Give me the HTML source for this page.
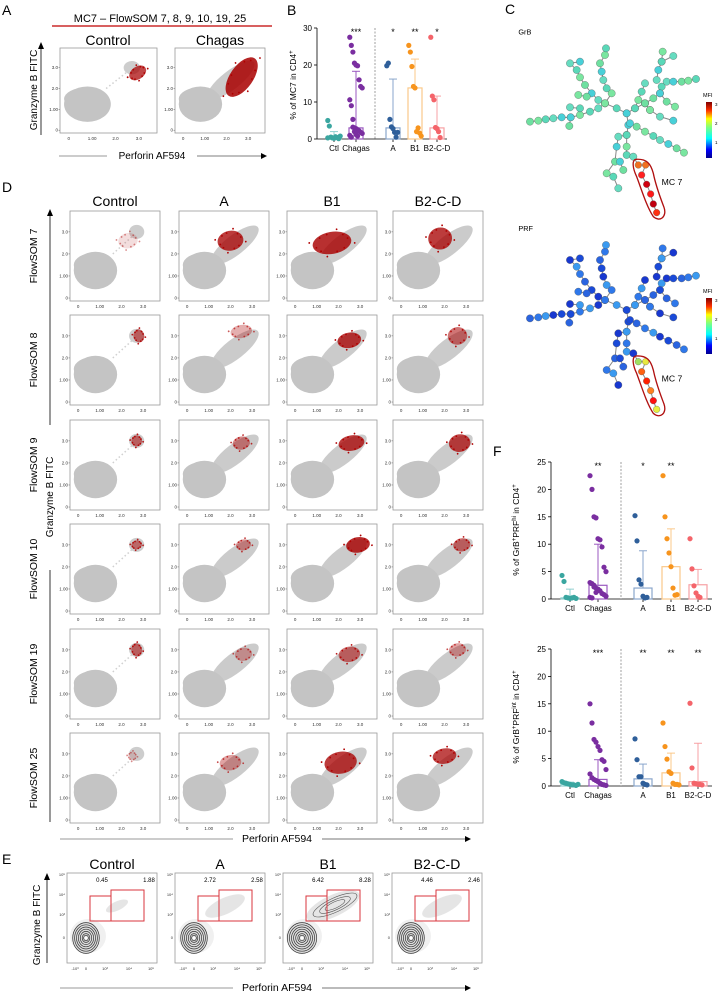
<!DOCTYPE html>
<html><head><meta charset="utf-8"><style>
html,body{margin:0;padding:0;background:#fff}
svg{display:block;font-family:"Liberation Sans",sans-serif}
</style></head><body>
<svg id="fig" xmlns="http://www.w3.org/2000/svg" width="726" height="993" viewBox="0 0 726 993">
<rect width="726" height="993" fill="#fff"/>
<g id="static">
<text x="2" y="15" font-size="14">A</text>
<text x="160" y="22" font-size="11" text-anchor="middle">MC7 – FlowSOM 7, 8, 9, 10, 19, 25</text>
<line x1="52" y1="26" x2="272" y2="26" stroke="#c00000" stroke-width="1.3"/>
<text x="108" y="45" font-size="14" text-anchor="middle">Control</text>
<text x="220" y="45" font-size="14" text-anchor="middle">Chagas</text>
<line x1="41" y1="135" x2="41" y2="46" stroke="#000" stroke-width="0.8"/>
<path d="M41,42 l-3,7 h6z" fill="#000"/>
<text transform="translate(37,90) rotate(-90)" font-size="10" text-anchor="middle">Granzyme B FITC</text>
<text x="152" y="159" font-size="10" text-anchor="middle">Perforin AF594</text>
<line x1="59" y1="156" x2="107" y2="156" stroke="#999" stroke-width="1"/>
<line x1="197" y1="156" x2="263" y2="156" stroke="#555" stroke-width="0.8"/>
<path d="M267,156 l-6,-3 v6z" fill="#000"/>
<text x="287" y="15" font-size="14">B</text>
<text x="505" y="14" font-size="14">C</text>
<text x="2" y="192" font-size="14">D</text>
<text x="2" y="864" font-size="14">E</text>
<text x="493" y="456" font-size="14">F</text>
</g>
<g id="dyn"></g>
</svg>
<script>
// ---------- Panel B data ----------
const bCategories = ["Ctl","Chagas","A","B1","B2-C-D"];
const bStars = ["","***","*","**","*"];
const bCtl = [5,3.5,0.5,0.3,0.2,0.6,0.4,0.1,0.8,0.3];
const bChagas = [27.5,25.3,23.5,20.5,20,19.8,16,14.2,13.8,10.6,9,5.3,3,2.8,2.5,2.2,1.8,1.5,1,0.5,3.2,2,1.2,0.8];
const bA = [19.8,20.5,5.3,3.3,2.8,1.8,0.5,1.8];
const bB1 = [25.3,23.5,19.6,14.2,13.8,2,3,1.6,0.8];
const bB2CD = [27.5,11.6,10.6,3.1,2.8,2,0.4];
const bMedians = [0.5,3,3,13.8,3];
const bUpper = [2,18.3,16.2,21.6,11.6];
const bTicks = [0,10,20,30];
// ---------- Panel F data ----------
const fStarsHi = ["","**","*","**",""];
const fCtlHi = [4.3,3.2,0.3,0.2,0.1,0.2,0.3,0.1];
const fChagasHi = [22.5,20,15,14.8,11,10.8,9.5,5.8,5,3,2.8,2.5,2,1.8,1.5,1,0.8,0.5,0.3,0.2,2.2,1.2];
const fAHi = [15.2,10.6,3.5,2.7,0.5,0.2,0.3];
const fB1Hi = [22.5,15,11,8.4,5.9,2,0.7,0.8];
const fB2CDHi = [11,5.5,2.4,1.1,0.5,0.3];
const fMedHi = [0.2,2.5,2,5.9,2.6];
const fUpHi = [1.8,10,8.8,12.8,5.4];
const fStarsInt = ["","***","**","**","**"];
const fCtlInt = [0.8,0.6,0.5,0.4,0.3,0.2,0.2,0.1,0.3];
const fChagasInt = [15,11.5,8.5,8,7.2,6.5,4.8,4.5,3,2.2,1.5,1.2,1,0.8,0.5,0.3,0.2,0.1];
const fAInt = [8.6,4.8,1.7,1.7,0.5,0.3,0.2];
const fB1Int = [11.5,7.2,4.9,2.6,2.3,0.5,0.3,0.3,0.2];
const fB2CDInt = [15.1,3.3,0.5,0.4,0.3,0.3,0.2];
const fMedInt = [0.3,1.2,1.3,2.4,0.8];
const fUpInt = [0.7,4.8,4,6,7.8];
const fTicks = [0,5,10,15,20,25];
// ---------- Panel D / A cluster data (data units) ----------
const dRows = ["FlowSOM 7","FlowSOM 8","FlowSOM 9","FlowSOM 10","FlowSOM 19","FlowSOM 25"];
const dCols = ["Control","A","B1","B2-C-D"];
const redX = [[2.3,2.0,1.7,1.8],[2.8,2.5,2.5,2.6],[2.7,2.5,2.6,2.7],[2.7,2.6,2.9,2.8],[2.7,2.6,2.5,2.6],[2.5,2.0,2.1,2.0]];
const redY = [[2.6,2.6,2.5,2.7],[3.0,3.2,2.8,3.0],[3.0,2.9,2.9,2.9],[3.0,3.0,3.0,3.0],[3.0,2.8,2.8,3.0],[2.9,2.6,2.6,2.9]];
const redRX = [[0.45,0.6,0.9,0.55],[0.25,0.5,0.55,0.45],[0.25,0.4,0.6,0.5],[0.25,0.35,0.55,0.4],[0.25,0.4,0.5,0.4],[0.2,0.5,0.75,0.55]];
const redRY = [[0.35,0.45,0.5,0.5],[0.3,0.3,0.35,0.4],[0.25,0.3,0.35,0.4],[0.2,0.25,0.35,0.3],[0.3,0.3,0.35,0.3],[0.2,0.35,0.5,0.35]];
const redDensity = [[0.15,0.85,0.9,0.85],[0.6,0.35,0.85,0.6],[0.6,0.5,0.85,0.8],[0.55,0.45,0.9,0.6],[0.6,0.35,0.6,0.4],[0.15,0.4,0.85,0.8]];
// ---------- Panel E data ----------
const eCols = ["Control","A","B1","B2-C-D"];
const eGateLeft = ["0.45","2.72","6.42","4.46"];
const eGateRight = ["1.88","2.58","8.28","2.46"];

const NS="http://www.w3.org/2000/svg";
const root=document.getElementById('dyn');
function el(tag,attrs,parent){const e=document.createElementNS(NS,tag);for(const k in attrs)e.setAttribute(k,attrs[k]);(parent||root).appendChild(e);return e;}
function txt(s,attrs,parent){const e=el('text',attrs,parent);e.textContent=s;return e;}

// ---------- scatter plot ----------
function scatter(bx,by,w,h,patient,rx,ry,rrx,rry,dens,name,rot){
  rot=rot||0;
  const g=el('g',{});
  
  
  const sx=w*0.241, sy=h*0.245, ox=bx+w*0.09, oy=by+h*0.967;
  const X=v=>ox+v*sx, Y=v=>oy-v*sy;
  el('rect',{x:bx,y:by,width:w,height:h,fill:'#fff',stroke:'#999','stroke-width':0.8},g);
  if(patient){
    el('ellipse',{cx:X(2.2),cy:Y(2.4),rx:1.35*sx,ry:0.45*sy,transform:`rotate(-38 ${X(2.2)} ${Y(2.4)})`,fill:'#cbcbcb'},g);
  } else {
    el('ellipse',{cx:X(2.7),cy:Y(3.0),rx:0.35*sx,ry:0.32*sy,fill:'#cdcdcd'},g);
    el('line',{x1:X(1.6),y1:Y(2.0),x2:X(2.5),y2:Y(2.8),stroke:'#d0d0d0','stroke-width':1.5,'stroke-dasharray':'1.5 2.5'},g);
  }
  el('ellipse',{cx:X(0.8),cy:Y(1.25),rx:1.0*sx,ry:0.85*sy,fill:'#c4c4c4'},g);
  el('ellipse',{cx:X(0.75),cy:Y(1.5),rx:0.95*sx,ry:0.55*sy,fill:'#c4c4c4'},g);
  // red cluster
  const rc=`rotate(${rot} ${X(rx)} ${Y(ry)})`;
  el('ellipse',{cx:X(rx),cy:Y(ry),rx:rrx*sx,ry:rry*sy,fill:'#a80000',opacity:dens*0.9,transform:rc},g);
  for(let i=0;i<12;i++){const a=i*0.5236+0.3, f=(i%3===0)?1.2:0.85;
    el('circle',{cx:X(rx)+Math.cos(a)*rrx*sx*f,cy:Y(ry)+Math.sin(a)*rry*sy*f,r:0.9,fill:'#b00000',opacity:Math.min(1,dens+0.3),transform:rc},g);}
  // ticks
  const yl=[[3,'3.0'],[2,'2.0'],[1,'1.00'],[0,'0']];
  yl.forEach(t=>{txt(t[1],{x:bx-2,y:Y(t[0])+1.5,'font-size':4.5,'text-anchor':'end',fill:'#333'},g);el('line',{x1:bx-1.5,y1:Y(t[0]),x2:bx,y2:Y(t[0]),stroke:'#666','stroke-width':0.5},g);});
  const xl=[[0,'0'],[1,'1.00'],[2,'2.0'],[3,'3.0']];
  xl.forEach(t=>{txt(t[1],{x:X(t[0]),y:by+h+7,'font-size':4.5,'text-anchor':'middle',fill:'#333'},g);});
  root.appendChild(g);
}
// Panel A plots
scatter(60,48,97,85,false,2.95,2.75,0.4,0.3,0.8,'scatter-a-control',-35);
scatter(175,48,90,85,true,2.7,2.55,1.05,0.55,0.95,'scatter-a-chagas',-55);

// Panel D
const dColX=[70,179,287,393], dRowY=[211,315,420,524,629,733];
dCols.forEach((c,j)=>{const t=txt(c,{x:dColX[j]+45,y:206,'font-size':14,'text-anchor':'middle'});
  
  });
dRows.forEach((r,i)=>{
  const t=txt(r,{transform:`translate(37,${dRowY[i]+45}) rotate(-90)`,'font-size':10.5,'text-anchor':'middle'});
  
  
  dCols.forEach((c,j)=>{
    scatter(dColX[j],dRowY[i],90,90,j>0,redX[i][j],redY[i][j],redRX[i][j],redRY[i][j],redDensity[i][j],'scatter-d',-10);
  });
});
el('line',{x1:50,y1:214,x2:50,y2:425,stroke:'#000','stroke-width':0.8});
el('path',{d:'M50,209 l-3,7 h6z',fill:'#000'});
el('line',{x1:50,y1:570,x2:50,y2:822,stroke:'#000','stroke-width':0.8});
const dy=txt('Granzyme B FITC',{transform:'translate(53,497) rotate(-90)','font-size':10,'text-anchor':'middle'});


const dx=txt('Perforin AF594',{x:277,y:842,'font-size':10.5,'text-anchor':'middle'});


el('line',{x1:60,y1:839,x2:233,y2:839,stroke:'#999','stroke-width':1});
el('line',{x1:322,y1:839,x2:466,y2:839,stroke:'#777','stroke-width':1});
el('path',{d:'M471,839 l-6,-3 v6z',fill:'#000'});

// Panel E
const eColX=[67,175,283,392], eTop=873, eH=90, eW=90;
eCols.forEach((c,j)=>{
  const bx=eColX[j];
  const t=txt(c,{x:bx+45,y:869,'font-size':14,'text-anchor':'middle'});
  
  
  const g=el('g',{});
  
  
  el('rect',{x:bx,y:eTop,width:eW,height:eH,fill:'#fff',stroke:'#999','stroke-width':0.8},g);
  const spread=[0.5,0.9,1.2,0.9][j];
  el('ellipse',{cx:bx+50,cy:eTop+33,rx:24*spread,ry:9*spread,transform:`rotate(-25 ${bx+50} ${eTop+33})`,fill:'#000',opacity:0.1},g);
  if(j===2){[1,0.7,0.45].forEach(s=>el('ellipse',{cx:bx+52,cy:eTop+32,rx:24*s,ry:7*s,transform:`rotate(-25 ${bx+52} ${eTop+32})`,fill:'none',stroke:'#555','stroke-width':0.6},g));}
  const cx=bx+19, cy=eTop+65;
  el('ellipse',{cx:cx+2,cy:cy-2,rx:18,ry:17,fill:'#000',opacity:0.06},g);
  [14,12,10,8,6,4,2.5].forEach((r,k)=>el('ellipse',{cx:cx,cy:cy,rx:r*(j===2?1.05:0.95),ry:r*1.1,fill:k===0?'#ddd':'none',stroke:'#333','stroke-width':0.7},g));
  el('circle',{cx:cx,cy:cy,r:1.5,fill:'#fff'},g);
  const lg=el('rect',{x:bx+23,y:eTop+23,width:21,height:25,fill:'none',stroke:'#d9363e','stroke-width':1},g);
  
  
  const rg=el('rect',{x:bx+44,y:eTop+17,width:33,height:31,fill:'none',stroke:'#d9363e','stroke-width':1},g);
  
  
  txt(eGateLeft[j],{x:bx+35,y:eTop+9,'font-size':6,'text-anchor':'middle'},g);
  txt(eGateRight[j],{x:bx+82,y:eTop+9,'font-size':6,'text-anchor':'middle'},g);
  [['10⁵',3],['10⁴',23],['10³',43],['0',66]].forEach(t=>txt(t[0],{x:bx-2,y:eTop+t[1],'font-size':4,'text-anchor':'end',fill:'#333'},g));
  [['-10³',8],['0',19],['10³',38],['10⁴',62],['10⁵',84]].forEach(t=>txt(t[0],{x:bx+t[1],y:eTop+eH+7,'font-size':4,'text-anchor':'middle',fill:'#333'},g));
});
el('line',{x1:47,y1:963,x2:47,y2:878,stroke:'#000','stroke-width':0.8});
el('path',{d:'M47,873 l-3,7 h6z',fill:'#000'});
const ey=txt('Granzyme B FITC',{transform:'translate(40,925) rotate(-90)','font-size':10,'text-anchor':'middle'});


const ex=txt('Perforin AF594',{x:277,y:991,'font-size':10.5,'text-anchor':'middle'});


el('line',{x1:60,y1:988,x2:233,y2:988,stroke:'#999','stroke-width':1});
el('line',{x1:322,y1:988,x2:466,y2:988,stroke:'#777','stroke-width':1});
el('path',{d:'M471,988 l-6,-3 v6z',fill:'#000'});

// ---------- strip chart ----------
const dotCol=['#3aa6a0','#7a2ea0','#2f5f9a','#f7941d','#f4646a'];
const barCol=['#8fcfcf','#9b59c0','#8aa6cc','#fbc98a','#f7a1a4'];
function strip(o){
  const g=el('g',{});
  
  
  const Y=v=>o.y0-v*o.unit;
  el('line',{x1:o.ax,y1:Y(o.ticks[o.ticks.length-1]),x2:o.ax,y2:o.y0,stroke:'#000','stroke-width':0.8},g);
  el('line',{x1:o.ax,y1:o.y0,x2:o.xend,y2:o.y0,stroke:'#000','stroke-width':0.8},g);
  o.ticks.forEach(t=>{el('line',{x1:o.ax-3,y1:Y(t),x2:o.ax,y2:Y(t),stroke:'#000','stroke-width':0.8},g);
    txt(String(t),{x:o.ax-5,y:Y(t)+3,'font-size':8,'text-anchor':'end'},g);});
  el('line',{x1:o.dash,y1:Y(o.ticks[o.ticks.length-1]),x2:o.dash,y2:o.y0,stroke:'#888','stroke-width':0.8,'stroke-dasharray':'2 1.5'},g);
  o.cats.forEach((c,i)=>{
    const cx=o.cx[i];
    el('line',{x1:cx,y1:o.y0,x2:cx,y2:o.y0+3,stroke:'#000','stroke-width':0.8},g);
    txt(c,{x:cx,y:o.y0+12,'font-size':8,'text-anchor':'middle'},g);
    if(o.stars[i])txt(o.stars[i],{x:cx,y:Y(o.ticks[o.ticks.length-1])+7,'font-size':9,'text-anchor':'middle'},g);
    const hw=o.hw;
    el('rect',{x:cx-hw,y:Y(o.med[i]),width:hw*2,height:o.y0-Y(o.med[i]),fill:'none',stroke:barCol[i],'stroke-width':1.2},g);
    el('line',{x1:cx,y1:Y(o.med[i]),x2:cx,y2:Y(o.up[i]),stroke:barCol[i],'stroke-width':1},g);
    el('line',{x1:cx-4,y1:Y(o.up[i]),x2:cx+4,y2:Y(o.up[i]),stroke:barCol[i],'stroke-width':1},g);
    o.pts[i].forEach((v,k)=>{
      const off=((k*37)%9-4)*hw/4.5;
      const p=el('circle',{cx:cx+off,cy:Y(v),r:2.6,fill:dotCol[i]},g);
      
      
    });
  });
  const yt=txt('',{transform:`translate(${o.tx},${o.ty}) rotate(-90)`,'font-size':8.5,'text-anchor':'middle'},g);
  yt.innerHTML=o.title;
  root.appendChild(g);
}
strip({name:'chart-b',ax:317,y0:139,unit:111/30,xend:447,dash:375,ticks:bTicks,cats:bCategories,cx:[334,356,393,415,437],
  stars:bStars,med:bMedians,up:bUpper,pts:[bCtl,bChagas,bA,bB1,bB2CD],hw:7,tx:296,ty:85,
  title:'% of MC7 in CD4<tspan baseline-shift="super" font-size="6">+</tspan>'});
strip({name:'chart-f-prf-hi',ax:551,y0:599,unit:137/25,xend:712,dash:621,ticks:fTicks,cats:bCategories,cx:[570,598,643,671,698],
  stars:fStarsHi,med:fMedHi,up:fUpHi,pts:[fCtlHi,fChagasHi,fAHi,fB1Hi,fB2CDHi],hw:9,tx:519,ty:530,
  title:'% of GrB<tspan baseline-shift="super" font-size="6">+</tspan>PRF<tspan baseline-shift="super" font-size="6">hi</tspan> in CD4<tspan baseline-shift="super" font-size="6">+</tspan>'});
strip({name:'chart-f-prf-int',ax:551,y0:786,unit:137/25,xend:712,dash:621,ticks:fTicks,cats:bCategories,cx:[570,598,643,671,698],
  stars:fStarsInt,med:fMedInt,up:fUpInt,pts:[fCtlInt,fChagasInt,fAInt,fB1Int,fB2CDInt],hw:9,tx:519,ty:717,
  title:'% of GrB<tspan baseline-shift="super" font-size="6">+</tspan>PRF<tspan baseline-shift="super" font-size="6">int</tspan> in CD4<tspan baseline-shift="super" font-size="6">+</tspan>'});

// ---------- Panel C trees (zoom coordinates, scaled 1/3) ----------
const branches=[
 [[150,365],[175,362],[197,358],[220,355],[245,352],[272,352],[300,345],[330,335],[355,325],[375,310]],
 [[375,310],[395,280],[380,265],[370,240],[365,215],[360,190],[375,165],[378,145]],
 [[355,300],[335,280],[315,255],[300,232],[290,210],[270,190],[300,185]],
 [[320,290],[295,285]],[[300,325],[270,322]],[[272,352],[268,378]],
 [[375,310],[410,325],[440,340],[445,375],[440,405],[440,440],[440,465],[460,470]],
 [[440,340],[465,325],[475,300],[485,275],[495,250]],
 [[495,310],[520,295],[540,280],[545,260],[560,245],[580,245],[605,245],[625,242],[648,237]],
 [[530,240],[535,210],[545,185],[548,155]],[[545,185],[580,168]],
 [[540,280],[560,305],[585,320]],[[465,325],[495,310]],
 [[450,370],[470,380],[495,395],[520,408],[540,420],[565,432],[590,445],[612,458]],
 [[510,330],[540,350],[580,362]],[[495,310],[510,330]],
 [[440,405],[415,410],[410,440],[405,485],[380,520],[400,530],[415,565]],[[420,485],[430,510]]
];
const mc7=[[475,495],[497,495],[485,525],[500,553],[512,582],[520,612],[530,638]];
const grbMC7=['#f07020','#f07020','#ff2020','#d00010','#ff1818','#c00010','#ff3010'];
const prfMC7=['#a0e060','#e8e840','#ff6010','#ff2000','#ff8020','#ff1010','#e8f040'];
function tree(dy,isPrf,name){
  const g=el('g',{transform:`translate(480,${dy}) scale(0.3333)`});
  
  
  const nodes=[];
  branches.forEach(b=>{el('polyline',{points:b.map(p=>p.join(',')).join(' '),fill:'none',stroke:'#888','stroke-width':3},g);b.forEach(p=>nodes.push(p));});
  el('polyline',{points:'460,470 475,495 '+mc7.map(p=>p.join(',')).join(' '),fill:'none',stroke:'#888','stroke-width':3},g);
  nodes.forEach((p,k)=>{
    let c;
    if(isPrf){c=['#2a64e0','#1838d0','#2f78ea','#1a4ad8','#3a9af0'][(k*7)%5];}
    else{c=['#6ee0a0','#5ad8b8','#48d0d8','#7ae6a0','#66dcc0'][(k*3)%5];}
    el('circle',{cx:p[0],cy:p[1],r:11,fill:c,stroke:'#555','stroke-width':1},g);
  });
  mc7.forEach((p,k)=>el('circle',{cx:p[0],cy:p[1],r:10,fill:(isPrf?prfMC7:grbMC7)[k],stroke:'#555','stroke-width':1},g));
  el('path',{d:'M468,478 C455,480 458,505 470,530 C485,570 500,620 520,650 C540,668 562,650 552,622 C540,590 528,560 520,520 C512,490 500,476 468,478 Z',fill:'none',stroke:'#b01010','stroke-width':4},g);
  txt('MC 7',{x:545,y:555,'font-size':26},g);
  txt(isPrf?'PRF':'GrB',{x:115,y:103,'font-size':22},g);
  root.appendChild(g);
}
tree(0,false,'tree-grb');
tree(196.7,true,'tree-prf');
// colorbars
const grad=el('defs',{});
const lg=el('linearGradient',{id:'jet',x1:0,y1:1,x2:0,y2:0},grad);
[['0','#00008f'],['0.15','#0000ff'],['0.35','#00ffff'],['0.55','#7fff7f'],['0.7','#ffff00'],['0.85','#ff3000'],['1','#800000']].forEach(s=>el('stop',{offset:s[0],'stop-color':s[1]},lg));
[102,298].forEach((y,i)=>{
  const r=el('rect',{x:706,y:y,width:6,height:56,fill:'url(#jet)'});
  
  
  txt('MFI',{x:703,y:y-5,'font-size':5.5});
  [['3',4],['2',23],['1',42]].forEach(t=>txt(t[0],{x:715,y:y+t[1],'font-size':4.5}));
});
</script>
</body></html>
